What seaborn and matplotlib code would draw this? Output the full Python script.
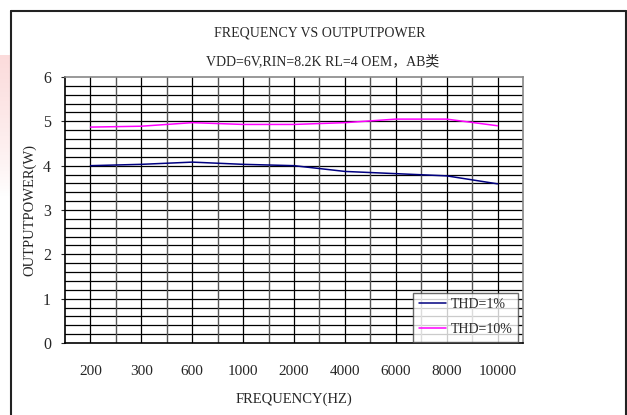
import matplotlib
matplotlib.use("Agg")
import matplotlib.pyplot as plt
import numpy as np
import pandas as pd
import seaborn as sns

# values
freqs = ["200", "300", "600", "1000", "2000", "4000", "6000", "8000", "10000"]
thd_1 = [4.00, 4.03, 4.08, 4.03, 4.00, 3.87, 3.82, 3.77, 3.59]
thd_10 = [4.87, 4.89, 4.97, 4.93, 4.93, 4.97, 5.05, 5.05, 4.90]
series_names = ["THD=1%", "THD=10%"]
series_colors = ["#000080", "#FF00FF"]

df = pd.DataFrame({
    "freq": freqs * 2,
    "power": thd_1 + thd_10,
    "series": [series_names[0]] * len(freqs) + [series_names[1]] * len(freqs),
})

sns.set_style("white")
plt.rcParams["font.family"] = ["Liberation Serif", "Noto Sans CJK SC"]

fig = plt.figure(figsize=(6.27, 4.15), dpi=100)
W, H = 627, 415
ax = fig.add_axes([65 / W, 1 - 343 / H, (523 - 65) / W, (343 - 77) / H])

# faint pink watermark at the left edge, fading downwards
wm = fig.add_axes([0, 1 - 225 / H, 11 / W, 170 / H], zorder=0)
fade = np.clip(np.linspace(1.0, -0.2, 64), 0, 1) ** 0.8
rgba = np.zeros((64, 1, 4))
rgba[..., 0], rgba[..., 1], rgba[..., 2] = 0.97, 0.72, 0.72
rgba[:, 0, 3] = 0.5 * fade
wm.imshow(rgba, aspect="auto", extent=(0, 1, 0, 1))
wm.axis("off")

# outer frame (no bottom edge visible)
frame_kw = dict(color="#222222", lw=1.5, transform=fig.transFigure)
fig.lines.append(plt.Line2D([11 / W, 11 / W], [0, 1 - 11 / H], **frame_kw))
fig.lines.append(plt.Line2D([11 / W, 626 / W], [1 - 11 / H, 1 - 11 / H], **frame_kw))
fig.lines.append(plt.Line2D([626 / W, 626 / W], [0, 1 - 11 / H], **frame_kw))

sns.lineplot(data=df, x="freq", y="power", hue="series", palette=series_colors,
             sort=False, lw=1.1, ax=ax, zorder=3)

n = len(freqs)
ax.set_xlim(-0.5, n - 0.5)
ax.set_ylim(0, 6)

# grid: every 0.2 W horizontally, every half category vertically
for y in np.arange(0.2, 6.0, 0.2):
    ax.axhline(y, color="black", lw=0.9, zorder=1)
for i in range(n):
    ax.axvline(i, color="black", lw=0.9, zorder=1)
    if i > 0:
        ax.axvline(i - 0.5, color="#555555", lw=1.0, zorder=1)

ax.set_yticks(range(0, 7))
ax.tick_params(axis="y", labelsize=11.5, length=3, left=True, pad=7)
ax.tick_params(axis="x", labelsize=11, length=0, pad=16)
for s in ax.spines.values():
    s.set_color("#888888")
    s.set_linewidth(1.2)
ax.spines["bottom"].set_color("black")
ax.spines["left"].set_color("black")

ax.set_xlabel("FREQUENCY(HZ)", fontsize=10.5, labelpad=10)
ax.set_ylabel("OUTPUTPOWER(W)", fontsize=10.5, labelpad=5)

fig.text(320 / W, 1 - 33 / H, "FREQUENCY VS OUTPUTPOWER", ha="center", va="center", fontsize=10)
fig.text(323 / W, 1 - 61 / H, "VDD=6V,RIN=8.2K RL=4 OEM，AB类", ha="center", va="center", fontsize=10)

leg = ax.legend(loc="lower right", bbox_to_anchor=(0.992, 0.0), fontsize=10,
                frameon=True, fancybox=False, handlelength=2.0, handletextpad=0.3,
                borderpad=0.4, labelspacing=0.85, borderaxespad=0.1)
leg.get_frame().set_edgecolor("#444444")
leg.get_frame().set_linewidth(1.0)
leg.set_zorder(5)

fig.savefig("out.png", dpi=100)
